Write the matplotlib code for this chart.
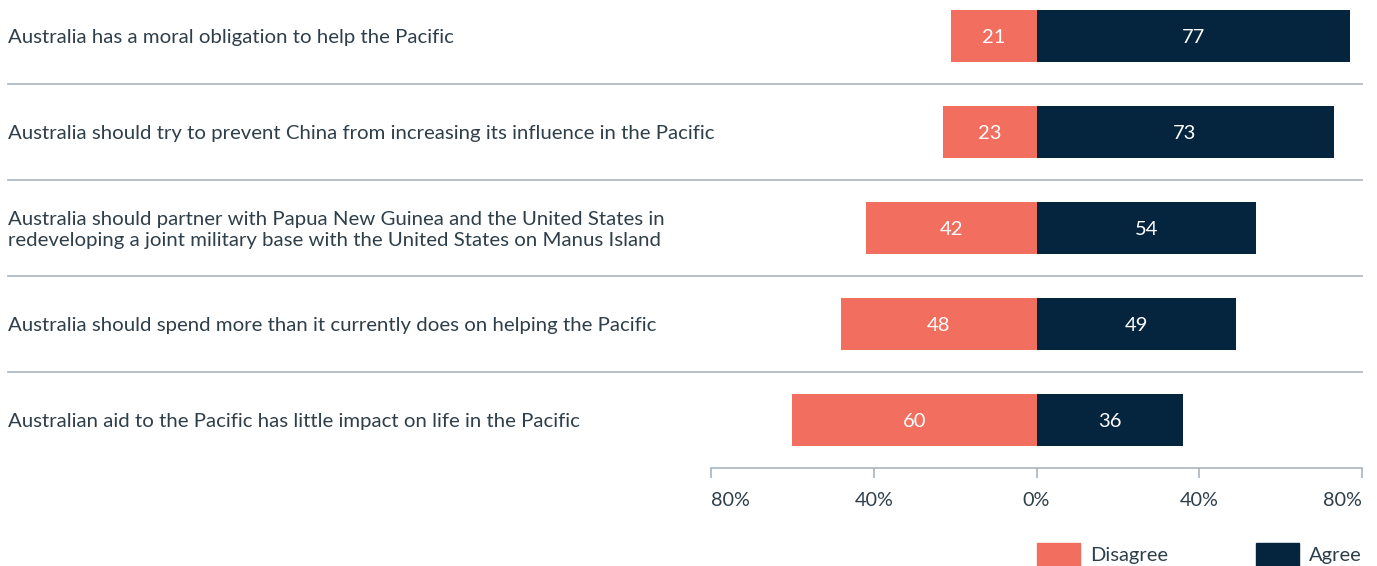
import matplotlib
matplotlib.use('Agg')
import matplotlib.pyplot as plt
from matplotlib.patches import Rectangle
from matplotlib.lines import Line2D
import matplotlib.transforms as mtransforms

statements = [
    'Australia has a moral obligation to help the Pacific',
    'Australia should try to prevent China from increasing its influence in the Pacific',
    'Australia should partner with Papua New Guinea and the United States in\n'
    'redeveloping a joint military base with the United States on Manus Island',
    'Australia should spend more than it currently does on helping the Pacific',
    'Australian aid to the Pacific has little impact on life in the Pacific',
]
disagree = [21, 23, 42, 48, 60]
agree = [77, 73, 54, 49, 36]
tick_values = [-80, -40, 0, 40, 80]
tick_labels = ['80%', '40%', '0%', '40%', '80%']

coral = '#f26f5f'
navy = '#05243d'
text_col = '#2e3f4a'
grid_col = '#a9b5be'

plt.rcParams['font.family'] = ['Lato', 'DejaVu Sans']

W, H = 1377, 566
fig = plt.figure(figsize=(W / 100, H / 100), dpi=100)
ax = fig.add_axes([711 / W, 1 - 468 / H, (1362 - 711) / W, 468 / H])

y = list(range(len(statements)))
ax.barh(y, [-d for d in disagree], height=0.54, color=coral)
ax.barh(y, agree, height=0.54, color=navy)

for i in y:
    ax.text(-disagree[i] / 2, i + 0.015, str(disagree[i]), ha='center', va='center',
            color='white', fontsize=14.5)
    ax.text(agree[i] / 2, i + 0.015, str(agree[i]), ha='center', va='center',
            color='white', fontsize=14.5)

ax.set_xlim(-80, 80)
ax.set_ylim(4.5, -0.375)

# statement labels at the left edge of the figure
lab_tr = mtransforms.blended_transform_factory(fig.transFigure, ax.transData)
for i, s in enumerate(statements):
    ax.text(8 / W, i + 0.02, s, transform=lab_tr, ha='left', va='center',
            color=text_col, fontsize=14.7, linespacing=1.28)

# row separators
for k in range(len(statements) - 1):
    ax.add_line(Line2D([8 / W, 1362 / W], [k + 0.5, k + 0.5], transform=lab_tr,
                       color=grid_col, lw=1.2, clip_on=False))

for sp in ['top', 'right', 'left']:
    ax.spines[sp].set_visible(False)
ax.spines['bottom'].set_color(grid_col)
ax.spines['bottom'].set_linewidth(1.2)
ax.set_yticks([])
ax.set_xticks(tick_values)
ax.set_xticklabels(tick_labels)
ax.tick_params(axis='x', direction='out', length=7.5, width=1.2, color=grid_col,
               labelcolor=text_col, labelsize=14.3, pad=9.5)
xl = ax.get_xticklabels()
xl[0].set_ha('left')
xl[-1].set_ha('right')

# legend
items = [('Disagree', coral, 1037), ('Agree', navy, 1256)]
for name, col, x0 in items:
    fig.patches.append(Rectangle((x0 / W, 1 - 566 / H), 43 / W, 23 / H,
                                 transform=fig.transFigure, color=col))
    fig.text((x0 + 53) / W, 1 - 555 / H, name, ha='left', va='center',
             color=text_col, fontsize=14.5)

fig.savefig('out.png', dpi=100)
